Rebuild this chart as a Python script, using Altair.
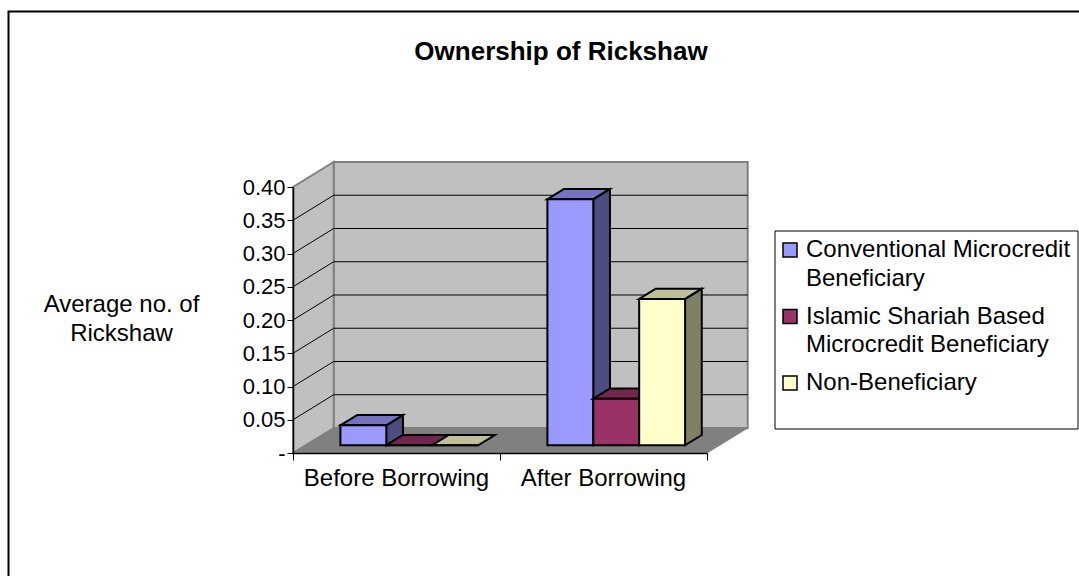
import altair as alt
import pandas as pd

# Chart content
categories = ["Before Borrowing", "After Borrowing"]
series = [
    "Conventional Microcredit Beneficiary",
    "Islamic Shariah Based Microcredit Beneficiary",
    "Non-Beneficiary",
]
conventional = [0.03, 0.37]
islamic = [0.0, 0.07]
non_beneficiary = [0.0, 0.22]
y_ticks = [0.0, 0.05, 0.10, 0.15, 0.20, 0.25, 0.30, 0.35, 0.40]

front_colors = ["#9999FF", "#993366", "#FFFFCC"]
top_colors = ["#7373BF", "#73264D", "#BFBF99"]
side_colors = ["#4D4D80", "#4D1A33", "#808066"]

FONT = "Liberation Sans"
TEXT_SIZE = 24
TICK_SIZE = 22

# Oblique projection: one unit of depth moves a point along these data offsets
DEPTH_X = 0.1966
DEPTH_Y = 0.0376
BAR_DEPTH_FRONT = 0.31
BAR_DEPTH_BACK = 0.72
BAR_WIDTH = 0.2217
GROUP_INSET = 0.168

x_scale = alt.Scale(domain=[0, 2], nice=False, zero=False)
y_scale = alt.Scale(domain=[0, 0.4], nice=False, zero=False)

# Value axis on the front left edge, category ticks along the front floor edge
X = alt.X(
    "x:Q",
    scale=x_scale,
    axis=alt.Axis(
        values=[0, 1, 2], labels=False, title=None, grid=False, zindex=1,
        domainColor="black", domainWidth=1.5, tickColor="black", tickSize=7,
    ),
)
Y = alt.Y(
    "y:Q",
    scale=y_scale,
    axis=alt.Axis(
        values=y_ticks,
        labelExpr="datum.value == 0 ? '-' : format(datum.value, '.2f')",
        labelFont=FONT,
        labelFontSize=TICK_SIZE,
        labelColor="black",
        labelPadding=2,
        tickColor="black",
        tickSize=6,
        domainColor="black",
        domainWidth=1.5,
        grid=False,
        zindex=1,
        title=["Average no. of", "Rickshaw"],
        titleFont=FONT,
        titleFontSize=TEXT_SIZE,
        titleFontWeight="normal",
        titleColor="black",
        titleAngle=0,
        titleAlign="center",
        titleBaseline="middle",
        titleLineHeight=29,
        titleX=-172,
        titleY=117,
    ),
)


def sloped_vertical(x0, x1, low0, high0, low1, high1, fill, stroke, width):
    """Parallelogram with vertical ends, from (x0, low0..high0) to (x1, low1..high1)."""
    frame = pd.DataFrame(
        [{"x": x0, "y": low0, "y2": high0}, {"x": x1, "y": low1, "y2": high1}]
    )
    return (
        alt.Chart(frame)
        .mark_area(fill=fill, stroke=stroke, strokeWidth=width, opacity=1)
        .encode(x=X, y=Y, y2="y2:Q")
    )


def sloped_horizontal(y0, y1, left0, right0, left1, right1, fill, stroke, width):
    """Parallelogram with horizontal ends, from (left0..right0, y0) to (left1..right1, y1)."""
    frame = pd.DataFrame(
        [{"y": y0, "x": left0, "x2": right0}, {"y": y1, "x": left1, "x2": right1}]
    )
    return (
        alt.Chart(frame)
        .mark_area(orient="horizontal", fill=fill, stroke=stroke, strokeWidth=width, opacity=1)
        .encode(y=Y, x=X, x2="x2:Q")
    )


layers = []

# Back wall
back_wall = pd.DataFrame([{"x": DEPTH_X, "x2": 2 + DEPTH_X, "y": DEPTH_Y, "y2": 0.4 + DEPTH_Y}])
layers.append(
    alt.Chart(back_wall)
    .mark_rect(fill="#C0C0C0", stroke="#808080", strokeWidth=2)
    .encode(x=X, x2="x2:Q", y=Y, y2="y2:Q")
)

# Left wall and floor
layers.append(sloped_vertical(0, DEPTH_X, 0, 0.4, DEPTH_Y, 0.4 + DEPTH_Y, "#C0C0C0", "#808080", 2))
layers.append(sloped_horizontal(0, DEPTH_Y, 0, 2, DEPTH_X, 2 + DEPTH_X, "#808080", "#808080", 1))

# Gridlines run along the back wall and down the left wall
grid_values = [v for v in y_ticks if 0 < v < 0.4]
back_grid = pd.DataFrame(
    [{"x": DEPTH_X, "x2": 2 + DEPTH_X, "y": v + DEPTH_Y} for v in grid_values]
)
layers.append(
    alt.Chart(back_grid)
    .mark_rule(color="black", strokeWidth=1)
    .encode(x=X, x2="x2:Q", y=Y)
)
side_grid = pd.DataFrame(
    [{"x": 0, "x2": DEPTH_X, "y": v, "y2": v + DEPTH_Y} for v in grid_values]
)
layers.append(
    alt.Chart(side_grid)
    .mark_rule(color="black", strokeWidth=1)
    .encode(x=X, x2="x2:Q", y=Y, y2="y2:Q")
)

# Bars, painted left to right so each one covers the side of its left neighbour
values_by_series = [conventional, islamic, non_beneficiary]
color_scale = alt.Scale(domain=series, range=front_colors)
legend = alt.Legend(
    title=None,
    orient="none",
    legendX=485,
    legendY=51,
    symbolType="square",
    symbolSize=196,
    symbolStrokeColor="black",
    symbolStrokeWidth=1.5,
    labelFont=FONT,
    labelFontSize=TEXT_SIZE,
    labelColor="black",
    labelLimit=320,
    labelOffset=4,
    rowPadding=13.5,
    labelExpr=(
        "datum.label == 'Conventional Microcredit Beneficiary' ? "
        "['Conventional Microcredit', 'Beneficiary'] : "
        "datum.label == 'Islamic Shariah Based Microcredit Beneficiary' ? "
        "['Islamic Shariah Based', 'Microcredit Beneficiary'] : datum.label"
    ),
)

for cat_index in range(len(categories)):
    for s_index, name in enumerate(series):
        value = values_by_series[s_index][cat_index]
        left = cat_index + GROUP_INSET + s_index * BAR_WIDTH + BAR_DEPTH_FRONT * DEPTH_X
        right = left + BAR_WIDTH
        base = BAR_DEPTH_FRONT * DEPTH_Y
        top = base + value
        shift_x = (BAR_DEPTH_BACK - BAR_DEPTH_FRONT) * DEPTH_X
        shift_y = (BAR_DEPTH_BACK - BAR_DEPTH_FRONT) * DEPTH_Y

        layers.append(
            sloped_vertical(
                right, right + shift_x, base, top, base + shift_y, top + shift_y,
                side_colors[s_index], "black", 2,
            )
        )
        layers.append(
            sloped_horizontal(
                top, top + shift_y, left, right, left + shift_x, right + shift_x,
                top_colors[s_index], "black", 2,
            )
        )
        front = pd.DataFrame([{"x": left, "x2": right, "y": base, "y2": top, "series": name}])
        layers.append(
            alt.Chart(front)
            .mark_rect(stroke="black", strokeWidth=2, opacity=1)
            .encode(
                x=X,
                x2="x2:Q",
                y=Y,
                y2="y2:Q",
                color=alt.Color("series:N", scale=color_scale, legend=legend, sort=series),
            )
        )

# Category names sit centred under each group
category_labels = pd.DataFrame(
    {"x": [i + 0.5 for i in range(len(categories))], "label": categories}
)
layers.append(
    alt.Chart(category_labels)
    .mark_text(font=FONT, fontSize=TEXT_SIZE, color="black", baseline="middle")
    .encode(x=X, y=alt.value(292), text="label:N")
)

# Chart heading, legend box and the outer chart border
anchor_row = pd.DataFrame([{"heading": "Ownership of Rickshaw"}])
layers.append(
    alt.Chart(anchor_row)
    .mark_text(font=FONT, fontSize=26, fontWeight="bold", color="black", baseline="middle")
    .encode(x=alt.value(268), y=alt.value(-135), text="heading:N")
)
layers.append(
    alt.Chart(anchor_row)
    .mark_rect(fill="transparent", stroke="black", strokeWidth=1)
    .encode(x=alt.value(482), x2=alt.value(785), y=alt.value(44), y2=alt.value(242))
)
layers.append(
    alt.Chart(anchor_row)
    .mark_rect(fill="transparent", stroke="black", strokeWidth=2)
    .encode(x=alt.value(-284.5), x2=alt.value(800), y=alt.value(-175.5), y2=alt.value(400))
)

chart = (
    alt.layer(*layers)
    .properties(
        width=414,
        height=266,
        autosize=alt.AutoSizeParams(type="none"),
        padding={"left": 293, "top": 187, "right": 372, "bottom": 123},
        background="white",
    )
    .configure_view(stroke=None)
    .configure(style={"guide-label": {"lineHeight": 28.5}})
)

chart.save("out.html", embed_options={"renderer": "svg", "actions": False})
